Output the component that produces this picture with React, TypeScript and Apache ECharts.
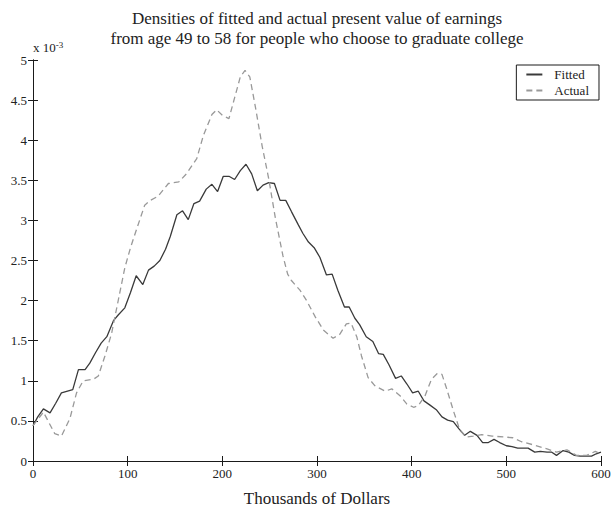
import React, { useEffect, useRef } from "react";
import * as echarts from "echarts";

const titleLines = [
  "Densities of fitted and actual present value of earnings",
  "from age 49 to 58 for people who choose to graduate college",
];
const xAxisName = "Thousands of Dollars";
const seriesNames = ["Fitted", "Actual"];

// values in units of 10^-3
const fittedX = [0, 5, 11, 18, 24, 30, 42, 48, 55, 60, 66, 72, 78, 85, 90, 97, 103, 109, 116, 122, 128, 134, 140, 145, 152, 158, 164, 170, 176, 183, 189, 195, 201, 207, 213, 219, 225, 231, 237, 243, 249, 255, 261, 267, 273, 280, 285, 291, 297, 303, 310, 316, 322, 329, 334, 340, 345, 352, 359, 365, 370, 376, 383, 389, 395, 401, 407, 413, 419, 426, 432, 438, 444, 450, 456, 462, 469, 475, 481, 487, 493, 500, 506, 512, 518, 523, 530, 536, 543, 548, 553, 560, 566, 572, 578, 584, 590, 595, 600];
const fittedY = [0.44, 0.55, 0.65, 0.6, 0.72, 0.85, 0.89, 1.14, 1.14, 1.22, 1.35, 1.47, 1.55, 1.75, 1.82, 1.91, 2.1, 2.31, 2.2, 2.38, 2.43, 2.5, 2.64, 2.8, 3.07, 3.12, 3.01, 3.21, 3.24, 3.39, 3.45, 3.36, 3.55, 3.55, 3.51, 3.62, 3.7, 3.58, 3.37, 3.44, 3.47, 3.46, 3.25, 3.25, 3.11, 2.95, 2.84, 2.73, 2.66, 2.54, 2.32, 2.33, 2.13, 1.92, 1.92, 1.78, 1.7, 1.55, 1.49, 1.34, 1.33, 1.2, 1.03, 1.06, 0.96, 0.85, 0.87, 0.75, 0.7, 0.64, 0.55, 0.51, 0.49, 0.4, 0.32, 0.37, 0.32, 0.23, 0.23, 0.27, 0.23, 0.19, 0.18, 0.16, 0.16, 0.16, 0.11, 0.12, 0.11, 0.11, 0.07, 0.13, 0.11, 0.07, 0.06, 0.06, 0.06, 0.09, 0.11];

const actualX = [0, 11, 23, 30, 39, 46, 53, 64, 69, 76, 83, 90, 97, 103, 110, 118, 124, 132, 143, 154, 162, 173, 180, 189, 194, 200, 207, 213, 219, 224, 229, 235, 242, 249, 256, 264, 269, 273, 282, 289, 298, 307, 317, 324, 331, 336, 342, 347, 354, 361, 372, 379, 388, 395, 402, 407, 414, 421, 427, 432, 437, 444, 451, 458, 465, 474, 485, 497, 507, 516, 529, 543, 553, 564, 574, 585, 594, 599];
const actualY = [0.44, 0.61, 0.34, 0.31, 0.53, 0.85, 1.0, 1.02, 1.06, 1.31, 1.59, 2.0, 2.41, 2.66, 2.91, 3.19, 3.25, 3.3, 3.46, 3.48, 3.58, 3.77, 4.06, 4.32, 4.38, 4.31, 4.27, 4.53, 4.79, 4.87, 4.79, 4.41, 3.93, 3.52, 3.03, 2.56, 2.33, 2.25, 2.13, 2.0, 1.8, 1.63, 1.53, 1.58, 1.71, 1.72, 1.55, 1.31, 1.04, 0.94, 0.87, 0.9, 0.81, 0.71, 0.67, 0.69, 0.81, 1.02, 1.09, 1.08, 0.9, 0.63, 0.38, 0.3, 0.31, 0.33, 0.31, 0.3, 0.29, 0.24, 0.2, 0.15, 0.11, 0.14, 0.07, 0.07, 0.12, 0.09];

const FONT = "Liberation Serif";

export default function App() {
  const ref = useRef<HTMLDivElement>(null);
  useEffect(() => {
    if (!ref.current) return;
    const chart = echarts.init(ref.current, null, { renderer: "svg" });
    const axisLine = { show: true, lineStyle: { color: "#1a1a1a", width: 1 } };
    const tick = { show: true, inside: true, length: 5, lineStyle: { color: "#1a1a1a" } };
    chart.setOption({
      animation: false,
      backgroundColor: "#fff",
      title: [
        {
          text: titleLines.join("\n"),
          left: 317,
          textAlign: "center",
          top: 8,
          padding: 0,
          textStyle: { fontFamily: FONT, fontSize: 17, fontWeight: "normal", color: "#222", lineHeight: 20 },
        },
        {
          text: "x 10{sup|-3}",
          left: 33,
          top: 40,
          padding: 0,
          textStyle: {
            fontFamily: FONT,
            fontSize: 13,
            fontWeight: "normal",
            color: "#222",
            rich: { sup: { fontFamily: FONT, fontSize: 9, color: "#222", verticalAlign: "top", padding: [0, 0, 6, 0] } },
          },
        },
      ],
      legend: {
        orient: "vertical",
        right: 16,
        top: 65,
        data: seriesNames,
        borderColor: "#1a1a1a",
        borderWidth: 1,
        backgroundColor: "#fff",
        padding: [3, 10, 3, 9],
        itemGap: 3,
        itemWidth: 16,
        itemHeight: 13,
        itemStyle: { opacity: 0 },
        textStyle: { fontFamily: FONT, fontSize: 13, color: "#222", padding: [0, 0, 0, 7] },
      },
      grid: { left: 33, right: 14, top: 60, bottom: 46 },
      xAxis: [
        {
          type: "value",
          min: 0,
          max: 600,
          interval: 100,
          position: "bottom",
          axisLine,
          axisTick: tick,
          splitLine: { show: false },
          axisLabel: { fontFamily: FONT, fontSize: 13, color: "#222", margin: 6 },
          name: xAxisName,
          nameLocation: "middle",
          nameGap: 29,
          nameTextStyle: { fontFamily: FONT, fontSize: 17, color: "#222" },
        },
        {
          type: "value",
          min: 0,
          max: 600,
          interval: 100,
          position: "top",
          axisLine,
          axisTick: tick,
          splitLine: { show: false },
          axisLabel: { show: false },
        },
      ],
      yAxis: [
        {
          type: "value",
          min: 0,
          max: 5,
          interval: 0.5,
          position: "left",
          axisLine,
          axisTick: tick,
          splitLine: { show: false },
          axisLabel: { fontFamily: FONT, fontSize: 13, color: "#222", margin: 6 },
        },
        {
          type: "value",
          min: 0,
          max: 5,
          interval: 0.5,
          position: "right",
          axisLine,
          axisTick: tick,
          splitLine: { show: false },
          axisLabel: { show: false },
        },
      ],
      series: [
        {
          name: seriesNames[0],
          type: "line",
          symbol: "none",
          data: fittedX.map((x, i) => [x, fittedY[i]]),
          lineStyle: { color: "#3a3a3a", width: 1.3 },
          itemStyle: { color: "#3a3a3a" },
        },
        {
          name: seriesNames[1],
          type: "line",
          symbol: "none",
          data: actualX.map((x, i) => [x, actualY[i]]),
          lineStyle: { color: "#999", width: 1.3, type: [6, 4] },
          itemStyle: { color: "#999" },
        },
      ],
    });
    return () => chart.dispose();
  }, []);
  return (
    <div
      ref={ref}
      style={{ position: "absolute", left: 0, top: 0, width: 615, height: 512, overflow: "hidden" }}
    />
  );
}
